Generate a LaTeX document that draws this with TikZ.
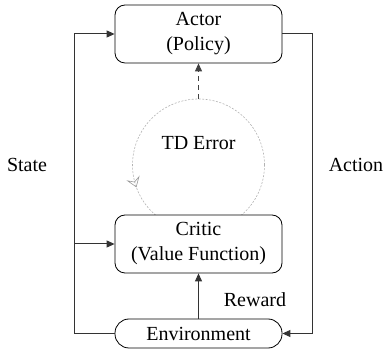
\documentclass[tikz,border=0pt]{standalone}
\usepackage{fontspec}
\setmainfont{Liberation Serif}
\usetikzlibrary{arrows.meta,decorations.markings}

\begin{document}
\begin{tikzpicture}[
        x=1pt, y=1pt,
        font=\fontsize{20}{25}\selectfont,
        box/.style={draw, line width=0.8pt, rounded corners=10pt, fill=white,
          minimum width=167pt, minimum height=58pt, align=center, inner sep=0pt},
        envbox/.style={box, rounded corners=14pt, minimum height=29pt},
        flow/.style={draw=black!80, line width=1pt, -{Triangle[length=8pt,width=7pt]}},
        tdarr/.style={draw=black!75, line width=1pt, dash pattern=on 5pt off 4pt,
          -{Triangle[length=8pt,width=7pt]}},
        tdloop/.style={draw=black!30, line width=0.6pt, dash pattern=on 2pt off 1.5pt},
        decoration={
          markings,
          mark=at position 0.555 with {\arrow[black!40]{Stealth[open,length=10pt,width=14pt,inset=4pt]}};
        }]
        % 画布范围
        \useasboundingbox (0,0) rectangle (387,352);
        % TD误差环
        \coordinate (td) at (198.5,187);
        \draw[tdloop, postaction={decorate}] (td) circle (66pt);
        \path (td) ++(0,66) coordinate (tdtop);
        \node (tderr) at (198.5,209) {TD Error};
        % 三个方框
        \node[box] (actor) at (198.5,318) {Actor\\(Policy)};
        \node[box] (critic) at (198.5,108) {Critic\\(Value Function)};
        \node[envbox] (env) at (198.5,18.5) {Environment};
        % 左右两侧转折点
        \coordinate (lb) at (74,18.5);
        \coordinate (rt) at (312,318);
        % State 回路
        \draw[flow] (env.west) -- (lb) |- (actor.west);
        \draw[flow] (lb |- critic.west) -- (critic.west);
        % Action 回路
        \draw[flow] (actor.east) -- (rt) |- (env.east);
        % Reward
        \draw[flow] (env.north) -- (critic.south);
        % TD误差指向 Actor
        \draw[tdarr] (tdtop) -- (actor.south);
        % 文字标注
        \node (state) at (27,187) {State};
        \node (action) at (356,187) {Action};
        \node (reward) at (255,52) {Reward};
      \end{tikzpicture}
\end{document}
